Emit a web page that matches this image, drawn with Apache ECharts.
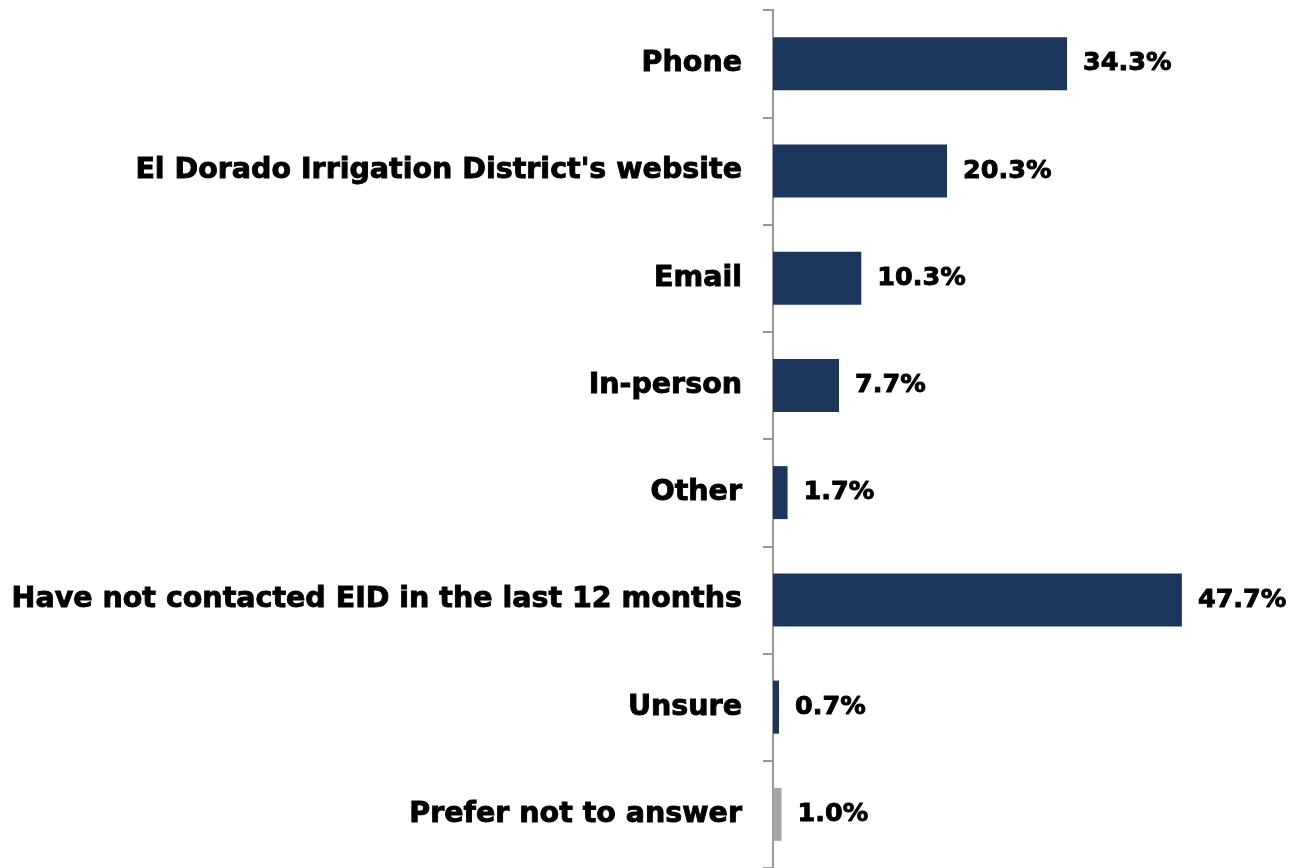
<!DOCTYPE html>
<html>
<head>
<meta charset="utf-8">
<script src="https://cdn.jsdelivr.net/npm/echarts@6/dist/echarts.min.js"></script>
<style>html,body{margin:0;padding:0;background:#fff;}#c{width:1291px;height:868px;}</style>
</head>
<body>
<div id="c"></div>
<script>
var categories = ["Phone", "El Dorado Irrigation District's website", "Email", "In-person", "Other", "Have not contacted EID in the last 12 months", "Unsure", "Prefer not to answer"];
var values = [34.3, 20.3, 10.3, 7.7, 1.7, 47.7, 0.7, 1.0];
var colors = ["#1b375e", "#1b375e", "#1b375e", "#1b375e", "#1b375e", "#1b375e", "#1b375e", "#a6a6a6"];

var chart = echarts.init(document.getElementById('c'));
var font = '"DejaVu Sans", Verdana, sans-serif';
chart.setOption({
  animation: false,
  grid: { left: 773, top: 10, height: 860, width: 428.6, containLabel: false },
  xAxis: { type: 'value', min: 0, max: 50, show: false },
  yAxis: {
    type: 'category', inverse: true, data: categories,
    axisLine: { show: true, lineStyle: { color: '#999999', width: 2 } },
    axisTick: { show: true, length: 10, lineStyle: { color: '#999999', width: 2 } },
    axisLabel: { margin: 31, color: '#000', fontFamily: font, fontWeight: 'bold', fontSize: 28.5,
      textBorderColor: '#000', textBorderWidth: 0.9 }
  },
  series: [{
    type: 'bar',
    barWidth: 53,
    data: values.map(function (v, i) { return { value: v, itemStyle: { color: colors[i] } }; }),
    label: {
      show: true, position: 'right', distance: 16,
      color: '#000', fontFamily: font, fontWeight: 'bold', fontSize: 25.5,
      textBorderColor: '#000', textBorderWidth: 0.9,
      formatter: function (p) { return p.value.toFixed(1) + '%'; }
    }
  }]
});
</script>
</body>
</html>
